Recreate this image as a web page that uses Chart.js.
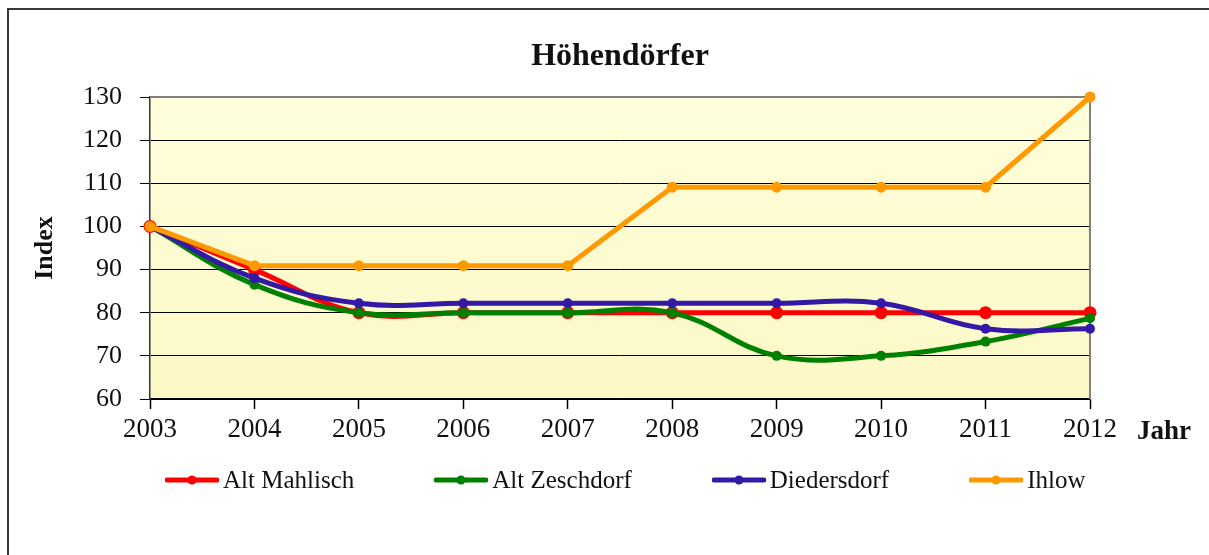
<!DOCTYPE html>
<html>
<head>
<meta charset="utf-8">
<script src="https://cdn.jsdelivr.net/npm/chart.js@4.4.1/dist/chart.umd.min.js"></script>
<style>
  body { margin: 0; background: #fff; overflow: hidden; }
  #wrap { position: relative; width: 1209px; height: 555px; overflow: hidden; }
  #frame { position: absolute; left: 7px; top: 8px; width: 1300px; height: 700px; border: 2px solid #3a3a3a; }
  #chart { position: absolute; left: 0; top: 0; }
  #legend { position: absolute; left: 165px; top: 466px; display: flex; gap: 80px;
    font: 25px "Liberation Serif", "Times New Roman", serif; color: #111; }
  #legend .item { display: flex; align-items: center; gap: 4px; }
</style>
</head>
<body>
<div id="wrap">
  <div id="frame"></div>
  <canvas id="chart" width="1209" height="555"></canvas>
  <div id="legend"></div>
</div>
<script>
const years = ["2003", "2004", "2005", "2006", "2007", "2008", "2009", "2010", "2011", "2012"];
const altMahlisch = [100, 90, 80, 80, 80, 80, 80, 80, 80, 80];
const altZeschdorf = [100, 86.5, 80, 80, 80, 80, 70, 70, 73.3, 78.7];
const diedersdorf = [100, 88, 82.2, 82.2, 82.2, 82.2, 82.2, 82.2, 76.3, 76.3];
const ihlow = [100, 90.9, 90.9, 90.9, 90.9, 109.1, 109.1, 109.1, 109.1, 130];
const yTicks = [60, 70, 80, 90, 100, 110, 120, 130];

const serif = '"Liberation Serif", "Times New Roman", serif';

// pale yellow plot background + grey top/right frame
const plotBox = {
  id: 'plotBox',
  beforeDraw(chart) {
    const { ctx, chartArea: a } = chart;
    const g = ctx.createLinearGradient(0, a.top, 0, a.bottom);
    g.addColorStop(0, '#fffedb');
    g.addColorStop(1, '#fcf8c6');
    ctx.save();
    ctx.fillStyle = g;
    ctx.fillRect(a.left, a.top, a.right - a.left, a.bottom - a.top);
    ctx.restore();
  },
  beforeDatasetsDraw(chart) {
    const { ctx, chartArea: a } = chart;
    ctx.save();
    ctx.strokeStyle = '#808080';
    ctx.lineWidth = 2;
    ctx.beginPath();
    ctx.moveTo(a.left, a.top);
    ctx.lineTo(a.right, a.top);
    ctx.lineTo(a.right, a.bottom);
    ctx.stroke();
    ctx.restore();
  }
};

// title over the plot, "Jahr" to the right of the year labels
const texts = {
  id: 'texts',
  afterDraw(chart) {
    const { ctx, chartArea: a } = chart;
    ctx.save();
    ctx.fillStyle = '#111';
    ctx.textBaseline = 'middle';
    ctx.textAlign = 'center';
    ctx.font = 'bold 32px ' + serif;
    ctx.fillText('Höhendörfer', (a.left + a.right) / 2, a.top - 40);
    ctx.textAlign = 'left';
    ctx.font = 'bold 27px ' + serif;
    ctx.fillText('Jahr', a.right + 47, a.bottom + 33);
    ctx.restore();
  }
};

function series(label, data, color, radius, tension, order) {
  return {
    label, data, order, tension, clip: false,
    borderColor: color, backgroundColor: color,
    borderWidth: 5, pointRadius: radius, pointBorderWidth: 0,
    pointBackgroundColor: color
  };
}

const chart = new Chart(document.getElementById('chart'), {
  type: 'line',
  data: {
    labels: years,
    datasets: [
      series('Alt Mahlisch', altMahlisch, '#ff0000', 6.5, 0.4, 4),
      series('Alt Zeschdorf', altZeschdorf, '#008000', 5, 0.4, 3),
      series('Diedersdorf', diedersdorf, '#3319a6', 5, 0.4, 2),
      series('Ihlow', ihlow, '#ff9900', 5.5, 0, 1)
    ]
  },
  options: {
    responsive: false,
    animation: false,
    layout: { padding: { left: 0, right: 119, top: 97, bottom: 106 } },
    plugins: {
      legend: { display: false },
      tooltip: { enabled: false },
      title: { display: false }
    },
    scales: {
      x: {
        offset: false,
        grid: { drawOnChartArea: false, tickLength: 10, tickColor: '#000', tickWidth: 1.5 },
        border: { color: '#000', width: 1.5 },
        ticks: { color: '#111', padding: 5, font: { family: serif, size: 27 }, maxRotation: 0 },
        afterFit(scale) { scale.height = 50; }
      },
      y: {
        min: 60, max: 130,
        afterBuildTicks(scale) { scale.ticks = yTicks.map(v => ({ value: v })); },
        grid: { color: '#000', lineWidth: 1, tickLength: 10, tickColor: '#000' },
        border: { color: '#333', width: 1.5 },
        ticks: { color: '#111', padding: 18, font: { family: serif, size: 26 } },
        title: {
          display: true, text: 'Index', color: '#111',
          font: { family: serif, size: 26, weight: 'bold' },
          padding: { top: 30, bottom: 0 }
        },
        afterFit(scale) { scale.width = 150; }
      }
    }
  },
  plugins: [plotBox, texts]
});

// legend built from the datasets
const legend = document.getElementById('legend');
chart.data.datasets.forEach(ds => {
  const item = document.createElement('div');
  item.className = 'item';
  item.innerHTML =
    '<svg width="54" height="14"><line x1="2" y1="7" x2="52" y2="7" stroke="' + ds.borderColor +
    '" stroke-width="5" stroke-linecap="round"/><circle cx="27" cy="7" r="4.5" fill="' + ds.borderColor + '"/></svg>' +
    '<span>' + ds.label + '</span>';
  legend.appendChild(item);
});
</script>
</body>
</html>
